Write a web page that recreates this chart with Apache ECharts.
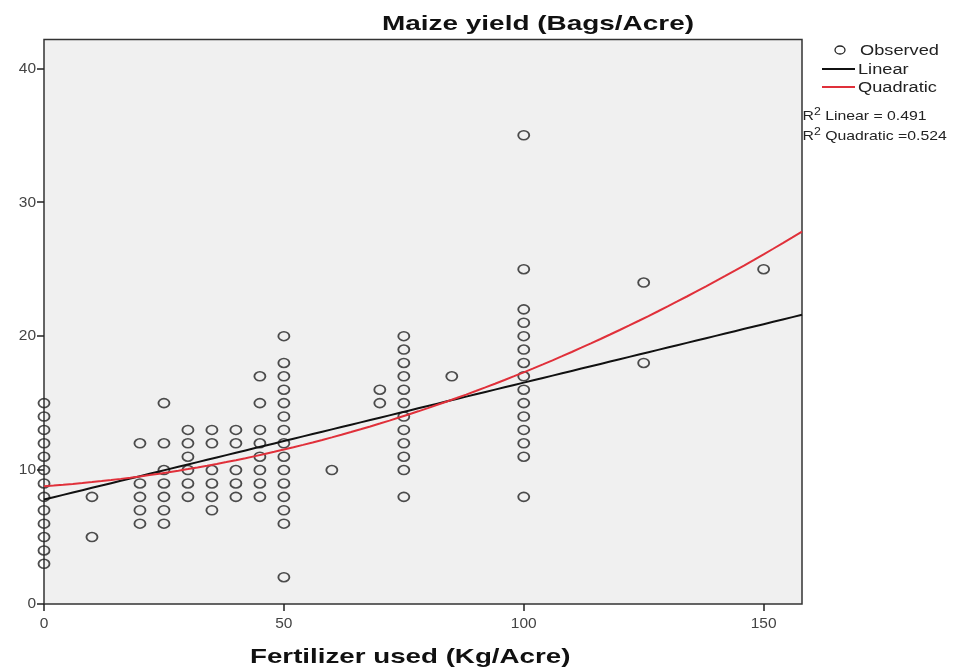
<!DOCTYPE html>
<html>
<head>
<meta charset="utf-8">
<script src="https://cdn.jsdelivr.net/npm/echarts@6/dist/echarts.min.js"></script>
<style>
html,body{margin:0;padding:0;background:#fff;}
#chart{width:969px;height:669px;}
</style>
</head>
<body>
<div id="chart"></div>
<script>
// Fertilizer (kg/acre) levels and observed maize yields (bags/acre) at each level
var fertLevels = [0, 10, 20, 25, 30, 35, 40, 45, 50, 60, 70, 75, 85, 100, 125, 150];
var yieldsAt0 = [3, 4, 5, 6, 7, 8, 9, 10, 11, 12, 13, 14, 15];
var yieldsAt10 = [8, 5];
var yieldsAt20 = [12, 9, 8, 7, 6];
var yieldsAt25 = [15, 12, 10, 9, 8, 7, 6];
var yieldsAt30 = [13, 12, 11, 10, 9, 8];
var yieldsAt35 = [13, 12, 10, 9, 8, 7];
var yieldsAt40 = [13, 12, 10, 9, 8];
var yieldsAt45 = [17, 15, 13, 12, 11, 10, 9, 8];
var yieldsAt50 = [20, 18, 17, 16, 15, 14, 13, 12, 11, 10, 9, 8, 7, 6, 2];
var yieldsAt60 = [10];
var yieldsAt70 = [16, 15];
var yieldsAt75 = [20, 19, 18, 17, 16, 15, 14, 13, 12, 11, 10, 8];
var yieldsAt85 = [17];
var yieldsAt100 = [35, 25, 22, 21, 20, 19, 18, 17, 16, 15, 14, 13, 12, 11, 8];
var yieldsAt125 = [24, 18];
var yieldsAt150 = [25];
var yieldGroups = [yieldsAt0, yieldsAt10, yieldsAt20, yieldsAt25, yieldsAt30, yieldsAt35, yieldsAt40,
  yieldsAt45, yieldsAt50, yieldsAt60, yieldsAt70, yieldsAt75, yieldsAt85, yieldsAt100, yieldsAt125, yieldsAt150];

// Fitted model coefficients (as shown by the fit lines)
var linearCoef = [7.8, 0.0873];             // a + b x
var quadCoef = [8.8, 0.0242, 0.000608];     // a + b x + c x^2
var fitRange = [0, 158];
var xTicks = [0, 50, 100, 150];
var yTicks = [0, 10, 20, 30, 40];
var seriesNames = ['Observed', 'Linear', 'Quadratic'];
var rSquaredLinear = '0.491';
var rSquaredQuadratic = '0.524';

var observed = [];
fertLevels.forEach(function (f, i) {
  yieldGroups[i].forEach(function (y) { observed.push([f, y]); });
});

function curve(coef) {
  var pts = [];
  for (var x = fitRange[0]; x <= fitRange[1]; x += 2) {
    var y = 0;
    for (var k = 0; k < coef.length; k++) y += coef[k] * Math.pow(x, k);
    pts.push([x, y]);
  }
  return pts;
}

var chart = echarts.init(document.getElementById('chart'));
var FONT = 'Liberation Sans, Arial, sans-serif';
var SX = 1.3; // horizontal stretch seen in the reference text

function txt(x, y, s, font, color, sx) {
  return {type: 'text', x: x, y: y, scaleX: sx || SX, z: 10,
    style: {text: s, font: font, fill: color || '#222', textVerticalAlign: 'middle', textAlign: 'left'}};
}
function rtxt(x, y, s) {
  return {type: 'text', x: x, y: y, scaleX: 1.17, z: 10,
    style: {text: s, textVerticalAlign: 'middle', textAlign: 'left',
      rich: {b: {fontSize: 13.5, fontFamily: FONT, fill: '#222', verticalAlign: 'bottom', lineHeight: 16},
             s: {fontSize: 10.5, fontFamily: FONT, fill: '#222', verticalAlign: 'top', lineHeight: 16, padding: [0, 0, 7, 0]}}}};
}

chart.setOption({
  backgroundColor: '#ffffff',
  animation: false,
  textStyle: {fontFamily: FONT},
  grid: {left: 44, top: 39.5, right: 167, bottom: 65, show: true, backgroundColor: '#f0f0f0',
    borderColor: '#333', borderWidth: 1.5, containLabel: false},
  xAxis: {
    type: 'value', min: 0, max: 158, interval: 50,
    axisLine: {show: false},
    axisTick: {show: true, length: 7, lineStyle: {color: '#222', width: 1.5}, customValues: xTicks},
    axisLabel: {color: '#444', fontSize: 15.5, margin: 12, fontFamily: FONT, customValues: xTicks},
    splitLine: {show: false}
  },
  yAxis: {
    type: 'value', min: 0, max: 42.15, interval: 10,
    axisLine: {show: false},
    axisTick: {show: true, length: 7, lineStyle: {color: '#222', width: 1.5}, customValues: yTicks},
    axisLabel: {color: '#444', fontSize: 15.5, margin: 8, fontFamily: FONT, customValues: yTicks},
    splitLine: {show: false}
  },
  legend: {show: false},
  graphic: [
    txt(382, 24.5, 'Maize yield (Bags/Acre)', 'bold 21px ' + FONT, '#111', 1.33),
    txt(250, 657, 'Fertilizer used (Kg/Acre)', 'bold 21px ' + FONT, '#111', 1.32),
    {type: 'ellipse', z: 10, shape: {cx: 840, cy: 50, rx: 5, ry: 4},
      style: {fill: 'none', stroke: '#222', lineWidth: 1.3}},
    txt(860, 51, seriesNames[0], '14px ' + FONT),
    {type: 'line', z: 10, shape: {x1: 822, y1: 69, x2: 855, y2: 69}, style: {stroke: '#111', lineWidth: 2}},
    txt(858, 70, seriesNames[1], '14px ' + FONT),
    {type: 'line', z: 10, shape: {x1: 822, y1: 87, x2: 855, y2: 87}, style: {stroke: '#e0303a', lineWidth: 2}},
    txt(858, 88, seriesNames[2], '14px ' + FONT),
    rtxt(802.5, 115, '{b|R}{s|2}{b| Linear = ' + rSquaredLinear + '}'),
    rtxt(802.5, 135, '{b|R}{s|2}{b| Quadratic =' + rSquaredQuadratic + '}')
  ],
  series: [
    {name: seriesNames[0], type: 'scatter', data: observed, symbol: 'circle', symbolSize: [11, 9],
      itemStyle: {color: 'transparent', borderColor: '#222', borderWidth: 1.7}, z: 3},
    {name: seriesNames[1], type: 'line', data: curve(linearCoef), showSymbol: false, symbol: 'none',
      lineStyle: {color: '#111', width: 2}, z: 4},
    {name: seriesNames[2], type: 'line', data: curve(quadCoef), showSymbol: false, symbol: 'none',
      lineStyle: {color: '#e0303a', width: 2}, z: 4}
  ]
});
</script>
</body>
</html>
